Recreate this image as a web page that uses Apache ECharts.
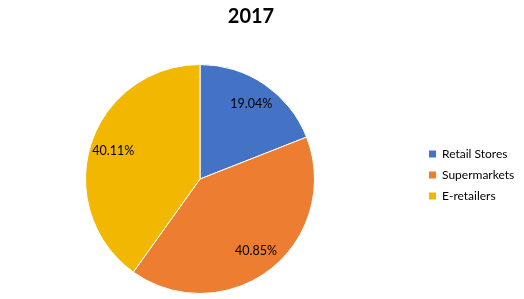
<!DOCTYPE html>
<html><head><meta charset="utf-8">
<script src="https://cdn.jsdelivr.net/npm/echarts@6/dist/echarts.min.js"></script>
<style>html,body{margin:0;padding:0;background:#fff}#c{width:524px;height:299px}</style>
</head><body><div id="c"></div>
<script>
var categories = ['Retail Stores', 'Supermarkets', 'E-retailers'];
var values = [19.04, 40.85, 40.11];
var colors = ['#4472C4', '#ED7D31', '#F2B700'];
var title = '2017';

var data = categories.map(function (n, i) { return { name: n, value: values[i] }; });
var chart = echarts.init(document.getElementById('c'), null, { renderer: 'canvas' });
chart.setOption({
  animation: false,
  color: colors,
  title: { text: title, left: 251, top: 7, textAlign: 'center', padding: 0,
    textStyle: { fontFamily: 'Lato', fontWeight: 'bold', fontSize: 20, color: '#000' } },
  legend: { orient: 'vertical', left: 427, top: 148, padding: 0, itemWidth: 9, itemHeight: 9, itemGap: 9,
    icon: 'rect', data: categories,
    textStyle: { fontFamily: 'Lato', fontSize: 12, lineHeight: 12, color: '#000' } },
  series: [
    { type: 'pie', center: [200, 179], radius: 114.5, startAngle: 90, clockwise: true,
      data: data, label: { show: false }, labelLine: { show: false },
      itemStyle: { borderColor: '#fff', borderWidth: 1 } },
    { type: 'pie', center: [200, 179], radius: 176, startAngle: 90, clockwise: true, silent: true,
      data: data, legendHoverLink: false,
      itemStyle: { color: 'rgba(0,0,0,0)', borderWidth: 0 },
      label: { show: true, position: 'inside', formatter: function (p) { return p.value.toFixed(2) + '%'; },
        fontFamily: 'Lato', fontSize: 12.5, color: '#000' },
      labelLine: { show: false } }
  ]
});
</script></body></html>
